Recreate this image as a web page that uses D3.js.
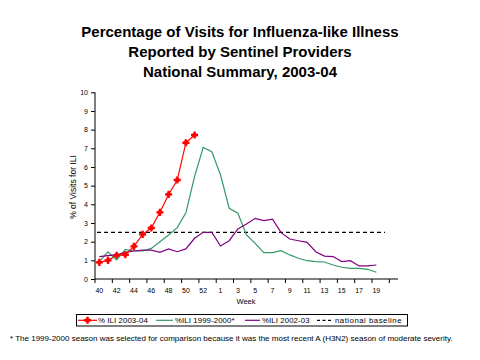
<!DOCTYPE html>
<html><head><meta charset="utf-8">
<script src="https://cdn.jsdelivr.net/npm/d3@7"></script>
<style>body{margin:0;background:#fff}svg{display:block;font-family:"Liberation Sans",Arial,sans-serif}</style>
</head><body><svg id="c" width="480" height="360"></svg>
<script>
const weeks = ["40","41","42","43","44","45","46","47","48","49","50","51","52","53","1","2","3","4","5","6","7","8","9","10","11","12","13","14","15","16","17","18","19","20","21"];
const ili2003 = [0.89,1.0,1.27,1.30,1.75,2.39,2.73,3.57,4.53,5.30,7.30,7.71];
const ili1999 = [0.93,1.46,1.02,1.59,1.5,1.5,1.64,2.0,2.36,2.75,3.55,5.48,7.05,6.82,5.57,3.79,3.52,2.36,1.91,1.41,1.41,1.52,1.29,1.11,0.98,0.93,0.91,0.75,0.63,0.57,0.57,0.52,0.36];
const ili2002 = [1.2,1.25,1.29,1.43,1.5,1.55,1.55,1.43,1.61,1.46,1.61,2.18,2.5,2.5,1.77,2.05,2.68,2.95,3.25,3.13,3.2,2.48,2.14,2.05,1.96,1.46,1.23,1.2,0.93,0.98,0.7,0.7,0.75];
const baseline = 2.5;
const yTicks = [0,1,2,3,4,5,6,7,8,9,10];
const seriesNames = ["% ILI 2003-04","%ILI 1999-2000*","%ILI 2002-03","national baseline"];

const svg = d3.select("#c");
const x = d3.scaleBand().domain(weeks).range([95, 398]).padding(0);
const y = d3.scaleLinear().domain([0,10]).range([279, 92.3]);
const cx = i => x(weeks[i]) + x.bandwidth()/2;

// title
const title = ["Percentage of Visits for Influenza-like Illness","Reported by Sentinel Providers","National Summary, 2003-04"];
svg.append("g").selectAll("text").data(title).join("text")
  .attr("x", 240).attr("y", (d,i)=>37+i*20).attr("text-anchor","middle")
  .attr("font-size", 15).attr("font-weight","bold").text(d=>d);

// y axis
const gy = svg.append("g").attr("transform","translate(95,0)")
  .call(d3.axisLeft(y).tickValues(yTicks).tickSize(4).tickPadding(3).tickFormat(d3.format("d")));
gy.selectAll("text").attr("font-size",7).attr("fill","#000");
gy.selectAll("line,path").attr("stroke","#000");
gy.select(".domain").attr("d","M0,279V92.3");

// x axis
const gx = svg.append("g").attr("transform","translate(0,279)");
gx.append("line").attr("x1",95).attr("x2",398).attr("stroke","#000");
const bIdx = d3.range(0, weeks.length, 2);
gx.selectAll(".tk").data(bIdx).join("line").attr("class","tk")
  .attr("x1",i=>x(weeks[i])).attr("x2",i=>x(weeks[i])).attr("y1",0).attr("y2",4).attr("stroke","#000");
const lblIdx = d3.range(0, weeks.length-1).filter(i => {
  const w = +weeks[i]; return w>=40 ? w%2===0 && w<=52 : w%2===1;
});
gx.selectAll(".lb").data(lblIdx).join("text").attr("class","lb")
  .attr("x",i=>cx(i)).attr("y",14).attr("text-anchor","middle").attr("font-size",7).text(i=>weeks[i]);

svg.append("text").attr("x",246).attr("y",304).attr("text-anchor","middle").attr("font-size",7.5).text("Week");
svg.append("text").attr("transform","translate(76,187) rotate(-90)").attr("text-anchor","middle")
  .attr("font-size",8.5).text("% of Visits for ILI");

// baseline
svg.append("line").attr("x1",97).attr("x2",385).attr("y1",y(baseline)).attr("y2",y(baseline))
  .attr("stroke","#000").attr("stroke-width",1.2).attr("stroke-dasharray","4,3");

const line = d3.line().x((d,i)=>cx(i)).y(d=>y(d));
svg.append("path").datum(ili1999).attr("d",line).attr("fill","none").attr("stroke","#339966").attr("stroke-width",1.2);
svg.append("path").datum(ili2002).attr("d",line).attr("fill","none").attr("stroke","#800080").attr("stroke-width",1.2);
svg.append("path").datum(ili2003).attr("d",line).attr("fill","none").attr("stroke","#ff0000").attr("stroke-width",1.2);
const sym = d3.symbol().type(d3.symbolCross).size(28);
const sq = d3.symbol().type(d3.symbolSquare).size(14);
function marker(g){ g.append("path").attr("d",sym).attr("fill","#ff0000"); g.append("path").attr("d",sq).attr("fill","#ff0000"); }
svg.append("g").selectAll("g").data(ili2003).join("g")
  .attr("transform",(d,i)=>`translate(${cx(i)},${y(d)})`).call(marker);

// legend
const lg = svg.append("g");
lg.append("rect").attr("x",76.5).attr("y",314.5).attr("width",331).attr("height",11.5).attr("fill","#fff").attr("stroke","#000");
const items = [
  {x0:78,x1:97,tx:98,color:"#ff0000",dash:null,marker:true},
  {x0:156,x1:173,tx:175,color:"#339966",dash:null},
  {x0:245,x1:260,tx:262,color:"#800080",dash:null},
  {x0:317,x1:332,tx:335,color:"#000",dash:"3,2.5"}
];
items.forEach((it,k)=>{
  lg.append("line").attr("x1",it.x0).attr("x2",it.x1).attr("y1",320.3).attr("y2",320.3)
    .attr("stroke",it.color).attr("stroke-width",1.2).attr("stroke-dasharray",it.dash);
  if(it.marker) lg.append("g").attr("transform",`translate(${(it.x0+it.x1)/2},320.3)`).call(marker);
  lg.append("text").attr("x",it.tx).attr("y",323).attr("font-size",7.8).attr("letter-spacing",k===3?0.5:0.1).text(seriesNames[k]);
});

svg.append("text").attr("x",10).attr("y",341).attr("font-size",8)
  .text("* The 1999-2000 season was selected for comparison because it was the most recent A (H3N2) season of moderate severity.");
</script></body></html>
